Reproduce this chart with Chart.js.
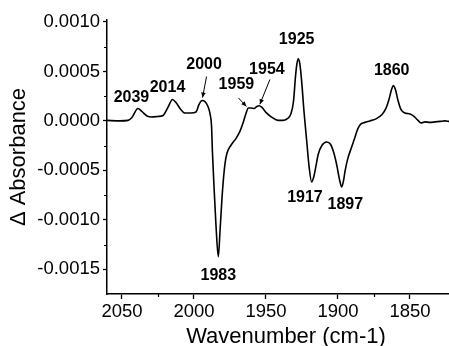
<!DOCTYPE html>
<html>
<head>
<meta charset="utf-8">
<script src="https://cdn.jsdelivr.net/npm/chart.js@4"></script>
<style>
  html, body { margin: 0; padding: 0; background: #fff; }
  #wrap { width: 449px; height: 346px; position: relative; }
</style>
</head>
<body>
<div id="wrap"><canvas id="chart"></canvas></div>
<script>
// Spectrum (wavenumber in cm-1, difference absorbance)
const wavenumbers = [
  2060.4, 2051.4, 2045.8, 2043.1, 2038.9, 2036.1, 2032.6, 2029.2, 2025.0, 2021.5,
  2018.1, 2014.9, 2012.5, 2009.7, 2006.3, 2002.1, 1998.6, 1996.5, 1994.4, 1992.4,
  1990.3, 1988.9, 1987.8, 1987.2, 1986.1, 1984.7, 1983.1, 1981.9, 1980.2, 1978.5,
  1977.1, 1974.3, 1970.8, 1968.1, 1966.0, 1963.9, 1962.2, 1960.4, 1958.3, 1956.3,
  1954.7, 1952.8, 1949.5, 1945.8, 1941.7, 1938.2, 1935.4, 1932.6, 1930.9, 1929.5,
  1928.5, 1927.6, 1926.5, 1925.2, 1923.6, 1921.7, 1920.1, 1918.3, 1916.7, 1915.3,
  1913.7, 1911.1, 1907.8, 1905.2, 1902.8, 1900.7, 1899.0, 1897.4, 1896.2, 1895.1,
  1893.1, 1890.5, 1888.2, 1886.1, 1884.0, 1881.3, 1877.8, 1873.6, 1869.4, 1866.7,
  1864.6, 1862.8, 1861.6, 1860.1, 1858.3, 1856.3, 1853.5, 1850.0, 1847.2, 1844.4,
  1842.4, 1839.6, 1836.1, 1832.6, 1829.2, 1825.7, 1822.9
];
const absorbance = [
  0.000005, 0.000000, 0.000005, 0.000035, 0.000126, 0.000095, 0.000050, 0.000040, 0.000045, 0.000055,
  0.000136, 0.000216, 0.000186, 0.000126, 0.000080, 0.000080, 0.000090, 0.000166, 0.000206, 0.000196,
  0.000146, 0.000075, -0.000055, -0.000307, -0.000658, -0.001060, -0.001372, -0.001110, -0.000709, -0.000437,
  -0.000327, -0.000246, -0.000176, -0.000106, -0.000025, 0.000075, 0.000131, 0.000131, 0.000126, 0.000146,
  0.000153, 0.000136, 0.000078, 0.000035, 0.000005, 0.000005, 0.000020, 0.000075, 0.000196, 0.000447,
  0.000578, 0.000628, 0.000578, 0.000397, 0.000095, -0.000206, -0.000457, -0.000618, -0.000558, -0.000457,
  -0.000337, -0.000246, -0.000213, -0.000236, -0.000327, -0.000457, -0.000588, -0.000668, -0.000608, -0.000508,
  -0.000376, -0.000265, -0.000166, -0.000075, -0.000030, -0.000015, 0.000000, 0.000020, 0.000065, 0.000126,
  0.000216, 0.000317, 0.000357, 0.000317, 0.000206, 0.000116, 0.000080, 0.000070, 0.000045, 0.000005,
  -0.000020, -0.000010, -0.000015, -0.000010, -0.000005, 0.000000, -0.000005
];

// Axis ticks
const xTickValues = [2050, 2000, 1950, 1900, 1850];
const xMinorTicks = [2025, 1875];
const yTickValues = [0.0010, 0.0005, 0.0000, -0.0005, -0.0010, -0.0015];
const yMinorTicks = [0.00075, 0.00025, -0.00025, -0.00075, -0.00125];

// Peak annotations
const peakLabels = ['2039', '2014', '2000', '1983', '1959', '1954', '1925', '1917', '1897', '1860'];
const peakWavenumbers = [2038.9, 2014.9, 1994.4, 1983.1, 1962.2, 1954.7, 1927.6, 1918.3, 1897.4, 1861.6];

const xTitle = 'Wavenumber (cm-1)';
const yTitle = '\u0394 Absorbance';

const FONT = "'Liberation Sans', Arial, sans-serif";

// pixel offsets of each label (and arrow) from the peak it names
const labelLayout = {
  '2039': { dx: -6.5, dy: -11 },
  '2014': { dx: -5, dy: -12 },
  '2000': { dx: 2, dy: -36, arrow: [4.5, -24, 0.5, -3] },
  '1983': { dx: 0, dy: 19 },
  '1959': { dx: -12, dy: -23.5, arrow: [-10, -10, -2, -1.5] },
  '1954': { dx: 7.7, dy: -36.3, arrow: [10.7, -26.3, 0.7, -1.5] },
  '1925': { dx: -1.6, dy: -19 },
  '1917': { dx: -6.7, dy: 16 },
  '1897': { dx: 3.6, dy: 18 },
  '1860': { dx: -1.6, dy: -15 }
};

function nearestValue(wn) {
  let best = 0;
  wavenumbers.forEach((w, i) => {
    if (Math.abs(w - wn) < Math.abs(wavenumbers[best] - wn)) best = i;
  });
  return absorbance[best];
}

const annotatePlugin = {
  id: 'annotate',
  afterDraw(chart) {
    const { ctx, chartArea, scales: { x, y } } = chart;
    ctx.save();
    ctx.strokeStyle = '#000';
    ctx.fillStyle = '#000';

    // minor ticks
    ctx.lineWidth = 1.2;
    ctx.beginPath();
    yMinorTicks.forEach(v => {
      const py = Math.round(y.getPixelForValue(v)) + 0.5;
      ctx.moveTo(chartArea.left - 3, py);
      ctx.lineTo(chartArea.left, py);
    });
    xMinorTicks.forEach(v => {
      const px = Math.round(x.getPixelForValue(v)) + 0.5;
      ctx.moveTo(px, chartArea.bottom);
      ctx.lineTo(px, chartArea.bottom + 3);
    });
    ctx.stroke();

    // peak labels and arrows
    ctx.font = 'bold 16px ' + FONT;
    ctx.textAlign = 'center';
    ctx.textBaseline = 'middle';
    peakLabels.forEach((label, i) => {
      const wn = peakWavenumbers[i];
      const px = x.getPixelForValue(wn);
      const py = y.getPixelForValue(nearestValue(wn));
      const lay = labelLayout[label];
      ctx.fillText(label, px + lay.dx, py + lay.dy);
      if (lay.arrow) {
        const [sx, sy, ex, ey] = lay.arrow;
        const x1 = px + sx, y1 = py + sy, x2 = px + ex, y2 = py + ey;
        ctx.lineWidth = 1;
        ctx.beginPath();
        ctx.moveTo(x1, y1);
        ctx.lineTo(x2, y2);
        ctx.stroke();
        const ang = Math.atan2(y2 - y1, x2 - x1);
        const len = 5, half = 2.3;
        ctx.beginPath();
        ctx.moveTo(x2, y2);
        ctx.lineTo(x2 - len * Math.cos(ang) + half * Math.sin(ang), y2 - len * Math.sin(ang) - half * Math.cos(ang));
        ctx.lineTo(x2 - len * Math.cos(ang) - half * Math.sin(ang), y2 - len * Math.sin(ang) + half * Math.cos(ang));
        ctx.closePath();
        ctx.fill();
      }
    });

    // x axis title
    ctx.font = '22px ' + FONT;
    ctx.fillText(xTitle, (chartArea.left + chartArea.right) / 2 + 8, 337);
    ctx.restore();
  }
};

new Chart(document.getElementById('chart'), {
  type: 'line',
  data: {
    datasets: [{
      data: wavenumbers.map((w, i) => ({ x: w, y: absorbance[i] })),
      borderColor: '#000',
      borderWidth: 1.6,
      pointRadius: 0,
      cubicInterpolationMode: 'monotone',
      fill: false
    }]
  },
  options: {
    responsive: true,
    maintainAspectRatio: false,
    animation: false,
    devicePixelRatio: 1,
    layout: { padding: { top: 20, right: 0, left: 0, bottom: 0 } },
    plugins: { legend: { display: false }, tooltip: { enabled: false } },
    scales: {
      x: {
        type: 'linear',
        reverse: true,
        min: 1822.9,
        max: 2060.4,
        afterBuildTicks: s => { s.ticks = xTickValues.map(v => ({ value: v })); },
        afterFit: s => { s.height = 52; },
        ticks: {
          color: '#000',
          padding: 2,
          maxRotation: 0,
          font: { family: FONT, size: 18.5 },
          callback: v => String(v)
        },
        grid: { drawOnChartArea: false, tickLength: 5, tickColor: '#000', tickWidth: 1.3 },
        border: { color: '#000', width: 1.5 }
      },
      y: {
        min: -0.00175,
        max: 0.00102,
        afterBuildTicks: s => { s.ticks = yTickValues.map(v => ({ value: v })); },
        afterFit: s => { s.width = 107; },
        ticks: {
          color: '#000',
          padding: 3,
          font: { family: FONT, size: 18.5 },
          callback: v => v.toFixed(4)
        },
        grid: { drawOnChartArea: false, tickLength: 4, tickColor: '#000', tickWidth: 1.3 },
        border: { color: '#000', width: 1.5 },
        title: {
          display: true,
          text: yTitle,
          color: '#000',
          padding: { top: 6, bottom: 0 },
          font: { family: FONT, size: 22 }
        }
      }
    }
  },
  plugins: [annotatePlugin]
});
</script>
</body>
</html>
